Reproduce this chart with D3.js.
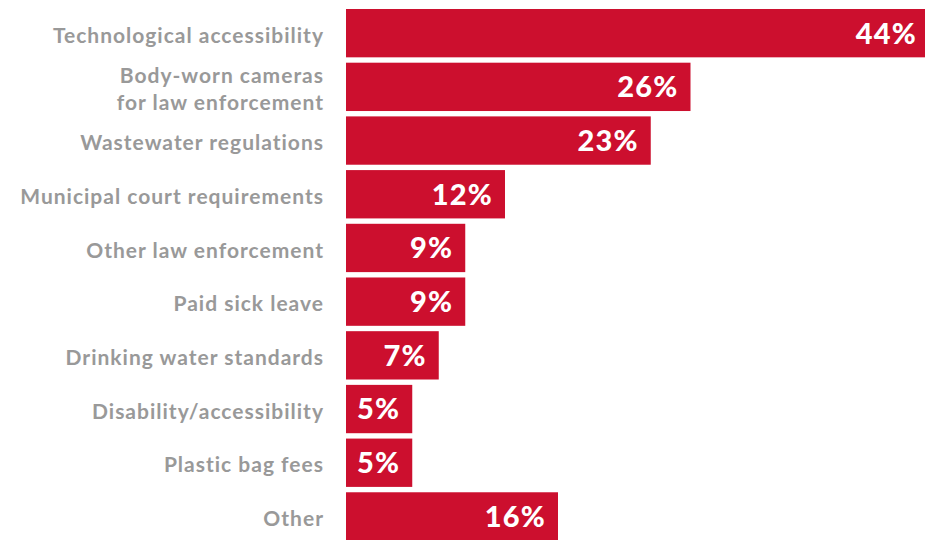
<!DOCTYPE html>
<html>
<head>
<meta charset="utf-8">
<script src="https://cdn.jsdelivr.net/npm/d3@7"></script>
<style>
  html, body { margin: 0; padding: 0; background: #fff; }
  svg { display: block; }
</style>
</head>
<body>
<svg id="chart" width="925" height="540"></svg>
<script>
const categories = [
  ["Technological accessibility"],
  ["Body-worn cameras", "for law enforcement"],
  ["Wastewater regulations"],
  ["Municipal court requirements"],
  ["Other law enforcement"],
  ["Paid sick leave"],
  ["Drinking water standards"],
  ["Disability/accessibility"],
  ["Plastic bag fees"],
  ["Other"]
];
const values = [44, 26, 23, 12, 9, 9, 7, 5, 5, 16];
const valueLabels = ["44%", "26%", "23%", "12%", "9%", "9%", "7%", "5%", "5%", "16%"];

const svg = d3.select("#chart");
const keys = categories.map(c => c.join(" "));

const x = d3.scaleLinear().domain([0, 44]).range([346, 929]);
const y = d3.scaleBand().domain(keys).range([9, 540.6]).paddingInner(0.1).paddingOuter(0);

const data = keys.map((k, i) => ({ key: k, lines: categories[i], value: values[i], label: valueLabels[i] }));

svg.selectAll("rect.bar").data(data).join("rect")
  .attr("class", "bar")
  .attr("x", x(0))
  .attr("y", d => y(d.key))
  .attr("width", d => x(d.value) - x(0))
  .attr("height", y.bandwidth())
  .attr("fill", "#CC0F2E");

svg.selectAll("text.val").data(data).join("text")
  .attr("class", "val")
  .attr("x", d => x(d.value) - 12)
  .attr("y", d => y(d.key) + y.bandwidth() / 2)
  .attr("dy", "0.36em")
  .attr("text-anchor", "end")
  .attr("fill", "#fff")
  .style("font-family", "Lato, sans-serif")
  .style("font-weight", 900)
  .style("font-size", "29px")
  .style("letter-spacing", "1.2px")
  .text(d => d.label);

const lab = svg.selectAll("text.cat").data(data).join("text")
  .attr("class", "cat")
  .attr("text-anchor", "end")
  .attr("fill", "#999999")
  .style("font-family", "Lato, sans-serif")
  .style("font-weight", 700)
  .style("font-size", "21px")
  .style("letter-spacing", "1px");

lab.each(function(d) {
  const t = d3.select(this);
  const cy = y(d.key) + y.bandwidth() / 2 + 2;
  const lh = 27;
  const n = d.lines.length;
  d.lines.forEach((ln, j) => {
    t.append("tspan")
      .attr("x", 324)
      .attr("y", cy + (j - (n - 1) / 2) * lh)
      .attr("dy", "0.36em")
      .text(ln);
  });
});
</script>
</body>
</html>
